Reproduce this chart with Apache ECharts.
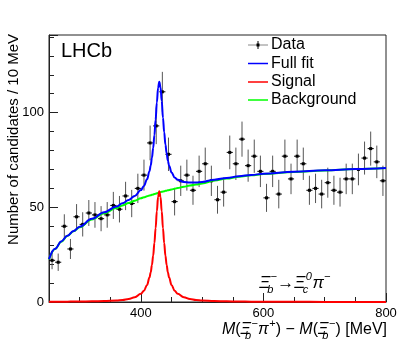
<!DOCTYPE html>
<html>
<head>
<meta charset="utf-8">
<script src="https://cdn.jsdelivr.net/npm/echarts@6/dist/echarts.min.js"></script>
<style>
html, body { margin: 0; padding: 0; background: #fff; }
#main { width: 407px; height: 344px; }
</style>
</head>
<body>
<div id="main"></div>
<script>
// histogram: 10 MeV bins starting at 250 MeV
var binLow = 250;
var binWidth = 10;
var counts = [22, 21, 40, 28, 45, 41, 47, 46, 44, 46,
              51, 49, 56, 52, 60, 67, 84, 93, 111, 78,
              53, 64, 67, 59, 69, 73, 64, 54, 58, 79,
              73, 86, 72, 77, 69, 55, 69, 57, 77, 65,
              77, 73, 59, 60, 57, 63, 59, 58, 65, 65,
              70, 76, 81, 74, 64];

// fit curves
var fitX = [250, 260, 270, 280, 290, 300, 320, 340, 360, 370,
            380, 390, 400, 405, 410, 414, 416, 418, 420, 422,
            424, 426, 428, 430, 432, 434, 436, 438, 440, 442,
            444, 446, 450, 455, 460, 470, 480, 490, 500, 520,
            540, 560, 580, 600, 650, 700, 750, 800];
var fullFit = [22.6, 28.1, 32.0, 35.0, 37.5, 39.8, 43.9, 47.4, 50.4, 52.1,
               53.9, 56.0, 59.1, 61.3, 64.8, 69.1, 72.1, 76.2, 81.3, 88.1,
               96.2, 105.3, 113.0, 116.3, 113.4, 106.1, 97.3, 89.6, 83.2, 78.4,
               74.7, 72.0, 68.4, 65.8, 64.5, 63.4, 63.1, 63.1, 63.4, 64.6,
               65.5, 66.4, 67.1, 67.7, 68.8, 69.6, 70.2, 70.8];
var signal = [0.13, 0.14, 0.16, 0.19, 0.21, 0.25, 0.34, 0.51, 0.84, 1.1,
              1.6, 2.5, 4.3, 6.0, 9.0, 12.9, 15.7, 19.6, 24.5, 31.1,
              39.0, 47.9, 55.4, 58.5, 55.4, 47.9, 39.0, 31.1, 24.5, 19.6,
              15.7, 12.9, 9.0, 6.0, 4.3, 2.5, 1.6, 1.1, 0.84, 0.51,
              0.34, 0.25, 0.19, 0.14, 0.09, 0.06, 0.04, 0.03];
var background = [22.5, 28.0, 31.8, 34.8, 37.3, 39.5, 43.6, 46.9, 49.6, 51.0,
                  52.3, 53.5, 54.8, 55.3, 55.8, 56.2, 56.4, 56.6, 56.8, 57.0,
                  57.2, 57.4, 57.6, 57.8, 58.0, 58.2, 58.3, 58.5, 58.7, 58.8,
                  59.0, 59.1, 59.4, 59.8, 60.2, 60.9, 61.5, 62.0, 62.6, 64.1,
                  65.2, 66.1, 66.9, 67.6, 68.7, 69.5, 70.2, 70.8];

var yLabels = [0, 50, 100];
var xLabels = [400, 600, 800];

var FONT = 'Liberation Sans';

var myChart = echarts.init(document.getElementById('main'));

var dataPoints = counts.map(function (n, i) {
    return [binLow + binWidth * (i + 0.5), n, Math.sqrt(n)];
});
function pairs(ys) {
    return fitX.map(function (x, i) { return [x, ys[i]]; });
}

var txt = { fontFamily: FONT, fontSize: 16, fill: '#000' };
var rich = {
    it: { fontFamily: FONT, fontStyle: 'italic', fontSize: 16, lineHeight: 23, verticalAlign: 'middle' },
    rm: { fontFamily: FONT, fontSize: 16, lineHeight: 23, verticalAlign: 'middle' },
    sb: { fontFamily: FONT, fontStyle: 'italic', fontSize: 11, lineHeight: 11, verticalAlign: 'bottom', width: 0.1 },
    sp: { fontFamily: FONT, fontSize: 11, lineHeight: 11, verticalAlign: 'top', width: 7 }
};
var richBig = {
    it: { fontFamily: FONT, fontStyle: 'italic', fontSize: 17, lineHeight: 24, verticalAlign: 'middle' },
    rm: { fontFamily: FONT, fontSize: 17, lineHeight: 24, verticalAlign: 'middle' },
    sb: { fontFamily: FONT, fontStyle: 'italic', fontSize: 11, lineHeight: 11, verticalAlign: 'bottom', width: 0.1 },
    sp: { fontFamily: FONT, fontStyle: 'italic', fontSize: 11, lineHeight: 11, verticalAlign: 'top', width: 7 }
};

var option = {
    animation: false,
    backgroundColor: '#fff',
    grid: {
        left: 49, right: 21, top: 35, bottom: 42,
        show: true, borderColor: '#222', borderWidth: 1
    },
    xAxis: [
        {
            type: 'value', min: 250, max: 800, interval: 50,
            axisLine: { lineStyle: { color: '#222' } },
            axisTick: { inside: true, length: 5, lineStyle: { color: '#222' } },
            axisLabel: { show: false },
            splitLine: { show: false }
        },
        {
            type: 'value', min: 250, max: 800, position: 'bottom',
            axisLine: { show: false },
            axisTick: { inside: true, length: 9, customValues: xLabels, lineStyle: { color: '#222' } },
            axisLabel: { customValues: xLabels, margin: 5, fontFamily: FONT, fontSize: 13, color: '#000' },
            splitLine: { show: false }
        }
    ],
    yAxis: {
        type: 'value', min: 0, max: 141, interval: 50,
        axisLine: { show: true, lineStyle: { color: '#222' } },
        axisTick: { show: true, inside: true, length: 9, lineStyle: { color: '#222' } },
        minorTick: { show: true, splitNumber: 5, length: 5, lineStyle: { color: '#222' } },
        axisLabel: { customValues: yLabels, margin: 5, fontFamily: FONT, fontSize: 13, color: '#000' },
        splitLine: { show: false }
    },
    series: [
        {
            name: 'Data',
            type: 'custom',
            xAxisIndex: 0,
            data: dataPoints,
            z: 2,
            renderItem: function (params, api) {
                var x = api.value(0), y = api.value(1), e = api.value(2);
                var c = api.coord([x, y]);
                var top = api.coord([x, y + e]);
                var bot = api.coord([x, y - e]);
                var l = api.coord([x - binWidth / 2, y]);
                var r = api.coord([x + binWidth / 2, y]);
                return {
                    type: 'group',
                    children: [
                        { type: 'line', shape: { x1: c[0], y1: top[1], x2: c[0], y2: bot[1] }, style: { stroke: '#555', lineWidth: 1 } },
                        { type: 'line', shape: { x1: l[0], y1: c[1], x2: r[0], y2: c[1] }, style: { stroke: '#000', lineWidth: 1 } },
                        { type: 'rect', shape: { x: c[0] - 1.5, y: c[1] - 1.5, width: 3, height: 3 }, style: { fill: '#000' } }
                    ]
                };
            }
        },
        {
            name: 'Background', type: 'line', data: pairs(background),
            showSymbol: false, smooth: 0.4, smoothMonotone: 'x', z: 3,
            lineStyle: { color: '#00ff00', width: 2 }
        },
        {
            name: 'Signal', type: 'line', data: pairs(signal),
            showSymbol: false, smooth: 0.4, smoothMonotone: 'x', z: 4,
            lineStyle: { color: '#ff0000', width: 2 }
        },
        {
            name: 'Full fit', type: 'line', data: pairs(fullFit),
            showSymbol: false, smooth: 0.4, smoothMonotone: 'x', z: 5,
            lineStyle: { color: '#0000ff', width: 2 }
        }
    ],
    graphic: [
        { type: 'text', left: 61, top: 41, style: { text: 'LHCb', fontFamily: FONT, fontSize: 20, fill: '#000' } },
        // legend
        { type: 'line', shape: { x1: 248, y1: 45, x2: 268, y2: 45 }, style: { stroke: '#888', lineWidth: 1 } },
        { type: 'line', shape: { x1: 258, y1: 41, x2: 258, y2: 49 }, style: { stroke: '#000', lineWidth: 1 } },
        { type: 'rect', shape: { x: 256.5, y: 43.5, width: 3, height: 3 }, style: { fill: '#000' } },
        { type: 'text', x: 271, y: 45, style: Object.assign({ text: 'Data', textVerticalAlign: 'middle' }, txt) },
        { type: 'line', shape: { x1: 248, y1: 63.5, x2: 268, y2: 63.5 }, style: { stroke: '#0000ff', lineWidth: 1.5 } },
        { type: 'text', x: 271, y: 63.5, style: Object.assign({ text: 'Full fit', textVerticalAlign: 'middle' }, txt) },
        { type: 'line', shape: { x1: 248, y1: 82, x2: 268, y2: 82 }, style: { stroke: '#ff0000', lineWidth: 1.5 } },
        { type: 'text', x: 271, y: 82, style: Object.assign({ text: 'Signal', textVerticalAlign: 'middle' }, txt) },
        { type: 'line', shape: { x1: 248, y1: 100, x2: 268, y2: 100 }, style: { stroke: '#00ff00', lineWidth: 1.5 } },
        { type: 'text', x: 271, y: 100, style: Object.assign({ text: 'Background', textVerticalAlign: 'middle' }, txt) },
        // axis titles
        {
            type: 'text', x: 14, y: 34, rotation: Math.PI / 2,
            style: { text: 'Number of candidates / 10 MeV', fontFamily: FONT, fontSize: 15, fill: '#000', textAlign: 'right', textVerticalAlign: 'middle' }
        },
        {
            type: 'text', x: 387, y: 330,
            style: {
                text: '{it|M}{rm|(}{it|Ξ}{sb|b}{sp|−}{it|π}{sp|+}{rm|) − }{it|M}{rm|(}{it|Ξ}{sb|b}{sp|−}{rm|) [MeV]}',
                rich: rich, textAlign: 'right', textVerticalAlign: 'middle', fill: '#000'
            }
        },
        {
            type: 'text', x: 295, y: 283,
            style: {
                text: '{it|Ξ}{sb|b}{sp|−}{rm|→}{it|Ξ}{sb|c}{sp|0}{it|π}{sp|−}',
                rich: richBig, textAlign: 'center', textVerticalAlign: 'middle', fill: '#000'
            }
        }
    ]
};
myChart.setOption(option);
</script>
</body>
</html>
